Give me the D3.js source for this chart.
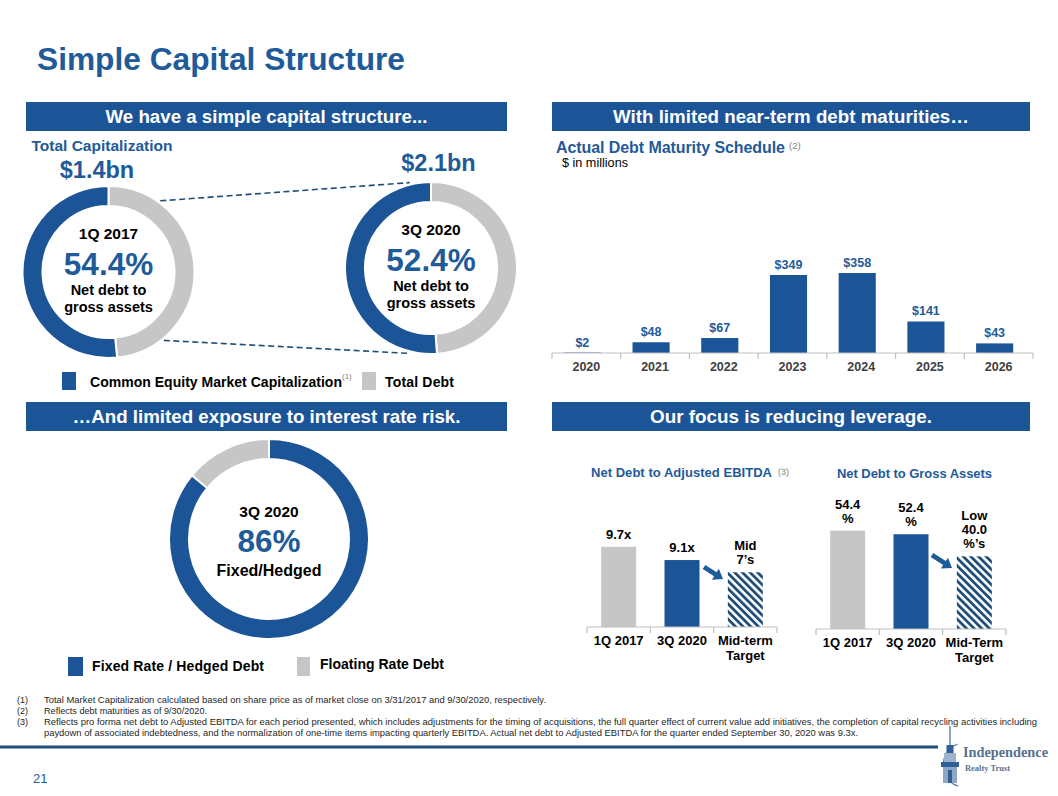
<!DOCTYPE html>
<html><head><meta charset="utf-8">
<script src="https://cdn.jsdelivr.net/npm/d3@7"></script>
<style>
html,body{margin:0;padding:0;background:#fff;}
svg{display:block;font-family:Arial,"Liberation Sans",Helvetica,sans-serif;}
</style></head><body>
<svg id="chart" width="1058" height="796"></svg>
<script>
// ---------------- data ----------------
const slideTitle = "Simple Capital Structure";
const panelHeaders = ["We have a simple capital structure...", "With limited near-term debt maturities…",
  "…And limited exposure to interest rate risk.", "Our focus is reducing leverage."];
const capPeriods = ["1Q 2017", "3Q 2020"];
const capTotals = ["$1.4bn", "$2.1bn"];
const capNetDebtPct = ["54.4%", "52.4%"];
const capSegments = ["Total Debt", "Common Equity Market Capitalization"];
const capDebtShare = [48.4, 48.9];
const capEquityShare = [51.6, 51.1];
const maturityYears = ["2020", "2021", "2022", "2023", "2024", "2025", "2026"];
const maturityValues = [2, 48, 67, 349, 358, 141, 43];
const rateSegments = ["Fixed Rate / Hedged Debt", "Floating Rate Debt"];
const rateShares = [86, 14];
const ebitdaCategories = [["1Q 2017"], ["3Q 2020"], ["Mid-term", "Target"]];
const ebitdaValues = [9.7, 9.1, 8.55];
const ebitdaLabels = [["9.7x"], ["9.1x"], ["Mid", "7’s"]];
const grossCategories = [["1Q 2017"], ["3Q 2020"], ["Mid-Term", "Target"]];
const grossValues = [54.4, 52.4, 40.2];
const grossLabels = [["54.4", "%"], ["52.4", "%"], ["Low", "40.0", "%’s"]];
const footnoteMarks = ["(1)", "(2)", "(3)", ""];
const footnoteTexts = [
  "Total Market Capitalization calculated based on share price as of market close on 3/31/2017 and 9/30/2020, respectively.",
  "Reflects debt maturities as of 9/30/2020.",
  "Reflects pro forma net debt to Adjusted EBITDA for each period presented, which includes adjustments for the timing of acquisitions, the full quarter effect of current value add initiatives, the completion of capital recycling activities including",
  "paydown of associated indebtedness, and the normalization of one-time items impacting quarterly EBITDA. Actual net debt to Adjusted EBITDA for the quarter ended September 30, 2020 was 9.3x."
];

// ---------------- style ----------------
const BLUE = "#1B5597", TBLUE = "#1F5A99", GRAY = "#C6C6C6", DARK = "#1F4E79";
const svg = d3.select("#chart");

function addText(parent, x, y, str, o = {}) {
  const t = parent.append("text").attr("x", x).attr("y", y).text(str)
    .attr("font-size", o.size || 12).attr("font-weight", o.weight || "bold")
    .attr("fill", o.fill || "#000").attr("text-anchor", o.anchor || "start");
  if (o.len) t.attr("textLength", o.len).attr("lengthAdjust", o.adj || "spacingAndGlyphs");
  if (o.family) t.attr("font-family", o.family);
  return t;
}

// title
addText(svg, 37, 70, slideTitle, {size: 31.5, fill: TBLUE, len: 368});

// panel headers
const headerBoxes = [[26, 102, 481], [552, 102, 478], [26, 402, 481], [552, 402, 478]];
const headerTextLen = [322, 356, 388, 282];
panelHeaders.forEach((h, i) => {
  const [x, y, w] = headerBoxes[i];
  svg.append("rect").attr("x", x).attr("y", y).attr("width", w).attr("height", 29).attr("fill", BLUE);
  addText(svg, x + w / 2, y + 21, h, {size: 18, fill: "#fff", anchor: "middle", len: headerTextLen[i]});
});

// ---------------- donuts ----------------
const pie = d3.pie().sort(null).value(d => d);
function donut(cx, cy, ro, ri, vals, colors) {
  const arc = d3.arc().innerRadius(ri).outerRadius(ro);
  const g = svg.append("g").attr("transform", `translate(${cx},${cy})`);
  g.selectAll("path").data(pie(vals)).join("path")
    .attr("d", arc).attr("fill", (d, i) => colors[i])
    .attr("stroke", "#fff").attr("stroke-width", 2);
  return g;
}
const capCenters = [[108.5, 272], [431, 268]];
const capR = 86;

// dashed connectors
function onCircle(c, r, deg) {
  const a = deg * Math.PI / 180;
  return [c[0] + r * Math.sin(a), c[1] - r * Math.cos(a)];
}
[[36, -14], [141, 194]].forEach(([a1, a2]) => {
  const p1 = onCircle(capCenters[0], capR + 2, a1), p2 = onCircle(capCenters[1], capR + 2, a2);
  svg.append("line").attr("x1", p1[0]).attr("y1", p1[1]).attr("x2", p2[0]).attr("y2", p2[1])
    .attr("stroke", DARK).attr("stroke-width", 1.6).attr("stroke-dasharray", "6,3.5");
});

capPeriods.forEach((p, i) => {
  const [cx, cy] = capCenters[i];
  const g = donut(cx, cy, capR, 66, [capDebtShare[i], capEquityShare[i]], [GRAY, BLUE]);
  addText(g, 0, -33, p, {size: 15.5, anchor: "middle"});
  addText(g, 0, 3, capNetDebtPct[i], {size: 31.5, fill: TBLUE, anchor: "middle"});
  addText(g, 0, 23, "Net debt to", {size: 14.5, anchor: "middle"});
  addText(g, 0, 40, "gross assets", {size: 14.5, anchor: "middle"});
});
addText(svg, 31.5, 151, "Total Capitalization", {size: 15.5, fill: TBLUE});
addText(svg, 97, 177.5, capTotals[0], {size: 23.5, fill: TBLUE, anchor: "middle"});
addText(svg, 438.5, 171, capTotals[1], {size: 23.5, fill: TBLUE, anchor: "middle"});

// top legend
svg.append("rect").attr("x", 62).attr("y", 372).attr("width", 14).attr("height", 18).attr("fill", BLUE);
addText(svg, 90, 387, capSegments[1], {size: 14, len: 252, adj: "spacing"});
addText(svg, 342, 379, "(1)", {size: 8, weight: "normal", fill: "#7F7F7F"});
svg.append("rect").attr("x", 362).attr("y", 372).attr("width", 14).attr("height", 18).attr("fill", GRAY);
addText(svg, 385, 387, capSegments[0], {size: 14, len: 69, adj: "spacing"});

// ---------------- maturity bar chart ----------------
addText(svg, 556, 153, "Actual Debt Maturity Schedule", {size: 16, fill: TBLUE, len: 229, adj: "spacing"});
addText(svg, 789, 149, "(2)", {size: 9.5, weight: "normal", fill: "#7F7F7F"});
addText(svg, 562, 167, "$ in millions", {size: 12, weight: "normal", len: 66});

const xM = d3.scaleBand().domain(maturityYears).range([552, 1033]).padding(0);
const yM = d3.scaleLinear().domain([0, 400]).range([353, 263.6]);
const mBarW = xM.bandwidth() * 0.54;
const mBx = d => xM(d) + (xM.bandwidth() - mBarW) / 2 - 4;
const gM = svg.append("g");
gM.selectAll("rect").data(maturityYears).join("rect")
  .attr("x", d => mBx(d)).attr("y", (d, i) => yM(maturityValues[i]))
  .attr("width", mBarW).attr("height", (d, i) => yM(0) - yM(maturityValues[i]))
  .attr("fill", BLUE);
maturityYears.forEach((d, i) => {
  addText(gM, mBx(d) + mBarW / 2, yM(maturityValues[i]) - 6, "$" + maturityValues[i], {size: 12.5, fill: TBLUE, anchor: "middle"});
  addText(gM, xM(d) + xM.bandwidth() / 2, 371, d, {size: 12.5, fill: "#404040", anchor: "middle"});
});
function axisLine(g, scale, y) {
  const [a, b] = scale.range();
  g.append("line").attr("x1", a).attr("x2", b).attr("y1", y).attr("y2", y).attr("stroke", "#BFBFBF").attr("stroke-width", 1.2);
  const ticks = scale.domain().map(d => scale(d)).concat([b]);
  ticks.forEach(t => g.append("line").attr("x1", t).attr("x2", t).attr("y1", y).attr("y2", y + 6)
    .attr("stroke", "#BFBFBF").attr("stroke-width", 1.2));
}
axisLine(gM, xM, 353);

// ---------------- interest rate donut ----------------
const gR = donut(269, 539, 100, 80, rateShares, [BLUE, GRAY]);
addText(gR, 0, -22, "3Q 2020", {size: 15.5, anchor: "middle"});
addText(gR, 0, 13, rateShares[0] + "%", {size: 31.5, fill: TBLUE, anchor: "middle"});
addText(gR, 0, 37, "Fixed/Hedged", {size: 16, anchor: "middle"});
svg.append("rect").attr("x", 68).attr("y", 657).attr("width", 15).attr("height", 19).attr("fill", BLUE);
addText(svg, 92, 671, rateSegments[0], {size: 14, len: 172, adj: "spacing"});
svg.append("rect").attr("x", 297).attr("y", 657).attr("width", 13).attr("height", 19).attr("fill", GRAY);
addText(svg, 320, 669, rateSegments[1], {size: 14, len: 124, adj: "spacing"});

// ---------------- leverage charts ----------------
const defs = svg.append("defs");
defs.append("pattern").attr("id", "hatch").attr("patternUnits", "userSpaceOnUse")
  .attr("width", 5.4).attr("height", 5.4).attr("patternTransform", "rotate(-45)")
  .append("rect").attr("width", 2.8).attr("height", 5.4).attr("fill", DARK);

function arrow(g, x1, y1, x2, y2) {
  const dx = x2 - x1, dy = y2 - y1, L = Math.hypot(dx, dy), ux = dx / L, uy = dy / L;
  const hl = 9, hw = 6.5, sw = 2.4;
  const bx = x2 - ux * hl, by = y2 - uy * hl, nx = -uy, ny = ux;
  const pts = [[x1 + nx * sw, y1 + ny * sw], [bx + nx * sw, by + ny * sw], [bx + nx * hw, by + ny * hw], [x2, y2],
    [bx - nx * hw, by - ny * hw], [bx - nx * sw, by - ny * sw], [x1 - nx * sw, y1 - ny * sw]];
  g.append("polygon").attr("points", pts.map(p => p.join(",")).join(" ")).attr("fill", "#1F5A99");
}

function leverageChart(cats, vals, labels, range, yDomain, yRange, catY, barW, fills, arrowPts) {
  const g = svg.append("g");
  const x = d3.scaleBand().domain(cats.map(c => c.join(" "))).range(range).padding(0);
  const y = d3.scaleLinear().domain(yDomain).range(yRange);
  const keys = x.domain();
  const bxf = k => x(k) + (x.bandwidth() - barW) / 2;
  g.selectAll("rect").data(keys).join("rect")
    .attr("x", k => bxf(k)).attr("y", (k, i) => y(vals[i]))
    .attr("width", barW).attr("height", (k, i) => y(yDomain[0]) - y(vals[i]))
    .attr("fill", (k, i) => fills[i]);
  keys.forEach((k, i) => {
    const cx = bxf(k) + barW / 2;
    const lines = labels[i];
    lines.forEach((ln, j) => addText(g, cx, y(vals[i]) - 8 - (lines.length - 1 - j) * 14, ln, {size: 13, anchor: "middle"}));
    cats[i].forEach((ln, j) => addText(g, x(k) + x.bandwidth() / 2, catY + j * 14.5, ln, {size: 13, anchor: "middle"}));
  });
  axisLine(g, x, yRange[0]);
  arrow(g, ...arrowPts);
}
addText(svg, 591, 477, "Net Debt to Adjusted EBITDA", {size: 13, fill: TBLUE, len: 181, adj: "spacing"});
addText(svg, 778, 475, "(3)", {size: 9, weight: "normal", fill: "#7F7F7F"});
addText(svg, 837, 478, "Net Debt to Gross Assets", {size: 13, fill: TBLUE, len: 155, adj: "spacing"});

leverageChart(ebitdaCategories, ebitdaValues, ebitdaLabels, [587, 777], [6.08, 10], [627, 540.1], 645, 35,
  [GRAY, BLUE, "url(#hatch)"], [704, 567, 723, 579]);
leverageChart(grossCategories, grossValues, grossLabels, [816, 1006], [0, 60], [629, 520.5], 647, 35,
  [GRAY, BLUE, "url(#hatch)"], [932, 555, 952, 568]);

// ---------------- footnotes ----------------
const fnY = [703, 714, 725, 736], fnLen = [502, 163, 993, 814];
footnoteTexts.forEach((t, i) => {
  if (footnoteMarks[i]) addText(svg, 17, fnY[i], footnoteMarks[i], {size: 9, weight: "normal", fill: "#262626"});
  addText(svg, 44, fnY[i], t, {size: 9, weight: "normal", fill: "#262626", len: fnLen[i]});
});

// bottom rule, page number, logo
svg.append("rect").attr("x", 0).attr("y", 745.5).attr("width", 938).attr("height", 3).attr("fill", DARK);
addText(svg, 33, 783, "21", {size: 13, weight: "normal", fill: TBLUE});
const lg = svg.append("g");
lg.append("path").attr("d", d3.arc()({innerRadius: 22, outerRadius: 23.3, startAngle: 3.5, endAngle: 5.9}))
  .attr("transform", "translate(966,765)").attr("fill", "#5B7FA6");
lg.append("line").attr("x1", 950).attr("x2", 950).attr("y1", 726).attr("y2", 746).attr("stroke", DARK).attr("stroke-width", 1);
lg.append("rect").attr("x", 946.5).attr("y", 745).attr("width", 7).attr("height", 8).attr("fill", "#2E5F96");
lg.append("rect").attr("x", 944).attr("y", 753).attr("width", 12).attr("height", 9).attr("fill", "#9EB3CC");
lg.append("rect").attr("x", 941).attr("y", 762).attr("width", 18).attr("height", 5).attr("fill", "#2E5F96");
lg.append("rect").attr("x", 943).attr("y", 767).attr("width", 14).attr("height", 16).attr("fill", "#8FA7C4");
lg.append("rect").attr("x", 948).attr("y", 770).attr("width", 4).attr("height", 13).attr("fill", "#2E5F96");
addText(lg, 963, 757, "Independence", {size: 14, fill: "#5A6F8C", family: "'Liberation Serif','Times New Roman',serif", len: 85});
addText(lg, 965, 771, "Realty Trust", {size: 9, fill: "#5A6F8C", family: "'Liberation Serif','Times New Roman',serif", len: 45});
</script>
</body></html>
